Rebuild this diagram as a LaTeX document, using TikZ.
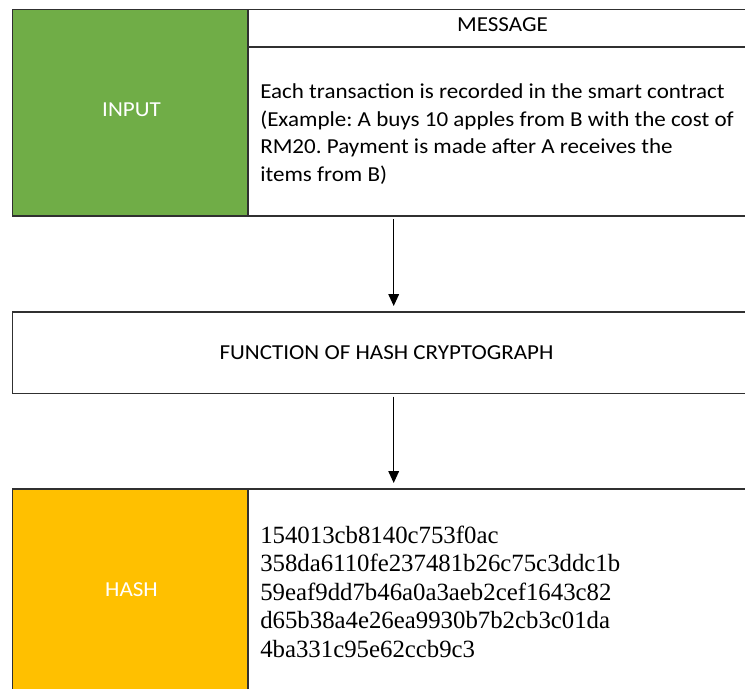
\documentclass[tikz,border=0pt]{standalone}
\usepackage{fontspec}
\setmainfont{Carlito}[FakeStretch=1.08]
\newfontfamily\hashfont{Liberation Serif}
\usetikzlibrary{arrows.meta}
\frenchspacing
\definecolor{inputgreen}{HTML}{70AD47}
\definecolor{hashgold}{HTML}{FFC000}
\definecolor{edgegray}{HTML}{303030}
\tikzset{
  cell/.style={draw=edgegray, line width=1.2pt, anchor=north west,
    inner sep=0pt, outer sep=0pt},
  caption/.style={font=\fontsize{16}{19}\selectfont, inner sep=0pt, anchor=center},
  bodyline/.style={font=\fontsize{16}{19}\selectfont, inner sep=0pt, anchor=base west},
  hashline/.style={font=\hashfont\fontsize{18.6}{22}\selectfont, inner sep=0pt, anchor=base west},
  flow/.style={draw=black, line width=1pt, -{Triangle[length=9pt,width=8pt]}}
}
\begin{document}
\begin{tikzpicture}[x=0.75pt,y=-0.75pt]
\useasboundingbox (0,0) rectangle (745,688);
\begin{scope}
\clip (0,0) rectangle (745,688);
% top row: input label and message
\node[cell, fill=inputgreen, minimum width=235.5*0.75pt, minimum height=206.5*0.75pt] (input) at (12.5,9.5) {};
\node[cell, fill=white, minimum width=520*0.75pt, minimum height=37.5*0.75pt] (msghead) at (248,9.5) {};
\node[cell, fill=white, minimum width=520*0.75pt, minimum height=169*0.75pt] (msgbody) at (248,47) {};
% hash function
\node[cell, fill=white, minimum width=760*0.75pt, minimum height=81.5*0.75pt] (func) at (12.5,312) {};
% bottom row: hash label and value
\node[cell, fill=hashgold, minimum width=235.5*0.75pt, minimum height=220*0.75pt] (hash) at (12.5,489) {};
\node[cell, fill=white, minimum width=520*0.75pt, minimum height=220*0.75pt] (hashval) at (248,489) {};
\end{scope}

\node[caption, text=white] (inputlbl) at (131.5,109.3) {INPUT};
\node[caption] (msglbl) at (502.5,25) {MESSAGE};
\node[bodyline] (msg1) at (260,98.3) {Each transaction is recorded in the smart contract};
\node[bodyline] (msg2) at (260,126.1) {(Example: A buys 10 apples from B with the cost of};
\node[bodyline] (msg3) at (260,153.9) {RM20. Payment is made after A receives the};
\node[bodyline] (msg4) at (260,181.7) {items from B)};
\node[caption] (funclbl) at (386.5,353) {FUNCTION OF HASH CRYPTOGRAPH};
\node[caption, text=white] (hashlbl) at (131.5,590) {HASH};
\node[hashline] (h1) at (260,543) {154013cb8140c753f0ac};
\node[hashline] (h2) at (260,571.5) {358da6110fe237481b26c75c3ddc1b};
\node[hashline] (h3) at (260,600) {59eaf9dd7b46a0a3aeb2cef1643c82};
\node[hashline] (h4) at (260,628.5) {d65b38a4e26ea9930b7b2cb3c01da};
\node[hashline] (h5) at (260,657) {4ba331c95e62ccb9c3};

% connectors
\coordinate (a1s) at (393.7,219);
\coordinate (a1e) at (393.7,306);
\coordinate (a2s) at (393.7,396.5);
\coordinate (a2e) at (393.7,483);
\draw[flow] (a1s) -- (a1e);
\draw[flow] (a2s) -- (a2e);
\end{tikzpicture}
\end{document}
